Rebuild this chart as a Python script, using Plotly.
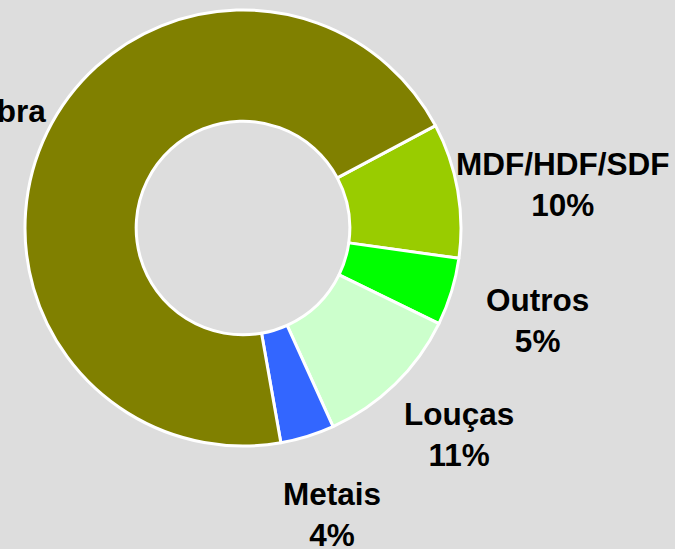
import math
import plotly.graph_objects as go

labels = ["MDF/HDF/SDF", "Outros", "Louças", "Metais", "Chapa de fibra"]
values = [10, 5, 11, 4, 70]
colors = ["#99cc00", "#00ff00", "#ccffcc", "#3366ff", "#808000"]

W, H = 675, 549
cx, cy, r = 243, 228, 218
rotation = 62
label_factor = 1.42
nudge = {
    "Chapa de fibra": (-28, 39),
    "MDF/HDF/SDF": (15, 10),
    "Outros": (-2, 2),
    "Louças": (0, -15),
    "Metais": (-3, -9),
}
font = dict(family="Liberation Sans, Arial, sans-serif", size=31.5, color="black", weight="bold")

fig = go.Figure(go.Pie(
    labels=labels,
    values=values,
    sort=False,
    direction="clockwise",
    rotation=rotation,
    hole=0.49,
    marker=dict(colors=colors, line=dict(color="white", width=3)),
    textinfo="none",
    hoverinfo="label+percent",
    domain=dict(x=[(cx - r) / W, (cx + r) / W], y=[1 - (cy + r) / H, 1 - (cy - r) / H]),
    showlegend=False,
))

total = sum(values)
cum = 0
annotations = []
for lab, v in zip(labels, values):
    mid = rotation + (cum + v / 2) / total * 360
    cum += v
    a = math.radians(mid)
    px = cx + label_factor * r * math.sin(a)
    py = cy - label_factor * r * math.cos(a)
    dx, dy = nudge.get(lab, (0, 0))
    px += dx
    py += dy
    pct = round(v / total * 100)
    annotations.append(dict(
        x=px / W, y=1 - py / H, xref="paper", yref="paper",
        xanchor="center", yanchor="middle", showarrow=False,
        text=f"{lab}<br>{pct}%", font=font, align="center",
    ))

fig.update_layout(
    width=W, height=H,
    margin=dict(l=0, r=0, t=0, b=0),
    paper_bgcolor="#dddddd",
    plot_bgcolor="#dddddd",
    annotations=annotations,
)
fig.write_html(
    "out.html",
    config={"displayModeBar": False},
    post_script="document.body.style.margin='0';document.body.style.background='#dddddd';",
)
